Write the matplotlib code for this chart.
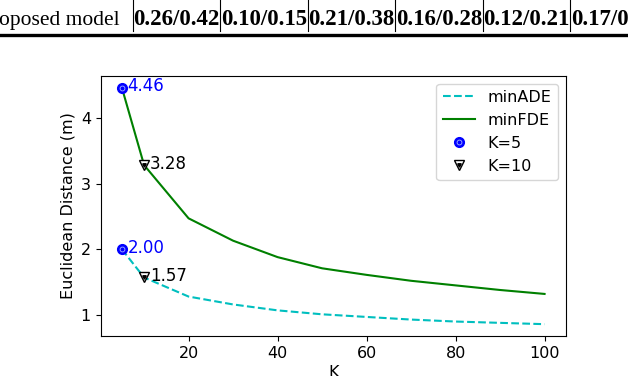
import matplotlib
matplotlib.use('Agg')
import matplotlib.pyplot as plt

plt.rcParams['font.family'] = ['DejaVu Sans']

k_values = [5, 10, 20, 30, 40, 50, 60, 70, 80, 90, 100]
min_ade = [2.00, 1.57, 1.28, 1.16, 1.07, 1.01, 0.97, 0.93, 0.90, 0.88, 0.86]
min_fde = [4.46, 3.28, 2.47, 2.13, 1.88, 1.71, 1.61, 1.52, 1.45, 1.38, 1.32]

# cut-off table row from the paper above the chart
row_label = 'oposed model'
row_values = ['0.26/0.42', '0.10/0.15', '0.21/0.38', '0.16/0.28', '0.12/0.21', '0.17/0.28']

W, H = 628, 376
fig = plt.figure(figsize=(W / 100, H / 100), dpi=100)

# table fragment
serif = 'Liberation Serif'
fig.text(-1 / W, 1 - 25 / H, row_label, family=serif, fontsize=15.5, va='baseline', ha='left')
col_edges = [132.5, 220, 307.5, 395, 482.5, 570]
for x0, v in zip(col_edges, row_values):
    fig.text((x0 + 1) / W, 1 - 25 / H, v, family=serif, fontsize=16.5,
             fontweight='bold', va='baseline', ha='left')
    fig.add_artist(plt.Line2D([x0 / W, x0 / W], [1, 1 - 31 / H], color='black', lw=0.8,
                              transform=fig.transFigure))
fig.text(110 / W, 1 + 6 / H, 'p', family=serif, fontsize=15.5, va='baseline', ha='left')
fig.add_artist(plt.Line2D([0, 1], [1 - 34.5 / H, 1 - 34.5 / H], color='black', lw=2.4,
                          transform=fig.transFigure))

ax = fig.add_axes([100.7 / W, 40 / H, 465 / W, 260.3 / H])
ade_line, = ax.plot(k_values, min_ade, 'c--', label='minADE')
fde_line, = ax.plot(k_values, min_fde, 'g-', label='minFDE')

i5 = k_values.index(5)
i10 = k_values.index(10)
k5_outer, = ax.plot([5, 5], [min_ade[i5], min_fde[i5]], 'o', color='blue', ms=7, zorder=3)
k5_inner, = ax.plot([5, 5], [min_ade[i5], min_fde[i5]], 'o', mfc='blue', mec='#a8b8ff',
                    ms=3.5, mew=0.6, zorder=4)
k10_outer, = ax.plot([10, 10], [min_ade[i10], min_fde[i10]], 'v', mfc='white', mec='black',
                     ms=7, mew=1.0, zorder=3)
k10_inner, = ax.plot([10, 10], [min_ade[i10], min_fde[i10]], 'v', color='black', ms=2.5, zorder=4)

for i, col in [(i5, 'blue'), (i10, 'black')]:
    for series in (min_fde, min_ade):
        ax.annotate('%.2f' % series[i], (k_values[i], series[i]), xytext=(4, 1),
                    textcoords='offset points', color=col, fontsize=12, va='center')

ax.set_xlabel('K', fontsize=11.5, labelpad=3)
ax.set_ylabel('Euclidean Distance (m)', fontsize=11.5)
ax.set_xticks([20, 40, 60, 80, 100])
ax.set_yticks([1, 2, 3, 4])
ax.tick_params(labelsize=11.5)

ax.legend([ade_line, fde_line, (k5_outer, k5_inner), (k10_outer, k10_inner)],
          ['minADE', 'minFDE', 'K=5', 'K=10'], loc='upper right', fontsize=11.5)

fig.savefig('out.png', dpi=100)
